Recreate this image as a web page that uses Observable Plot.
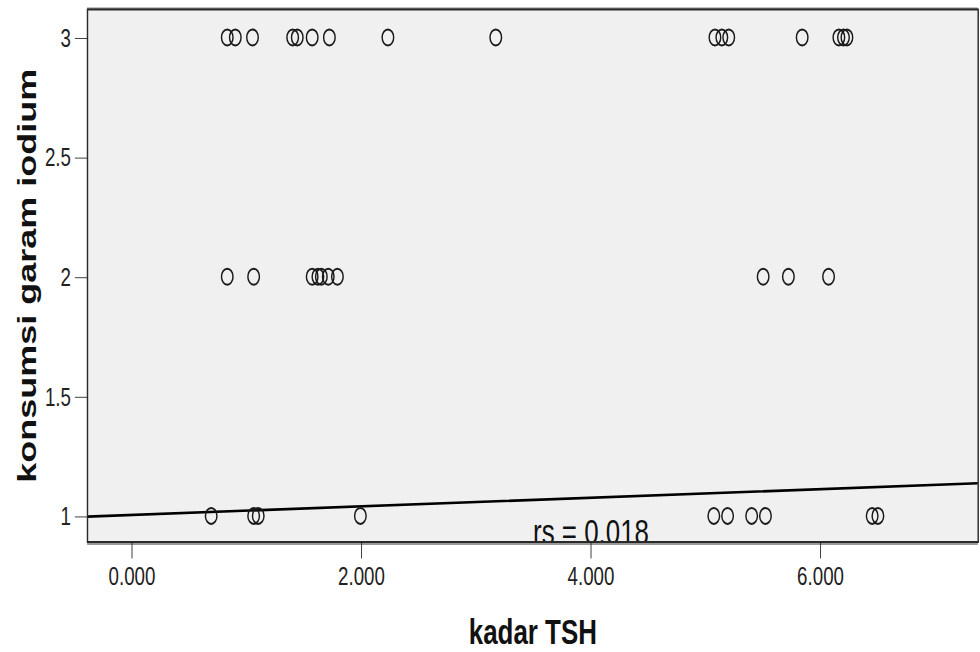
<!DOCTYPE html>
<html><head><meta charset="utf-8">
<script src="https://cdn.jsdelivr.net/npm/d3@7"></script>
<script src="https://cdn.jsdelivr.net/npm/@observablehq/plot@0.6"></script>
<style>html,body{margin:0;padding:0;background:#fff;overflow:hidden}</style>
</head><body><div id="chart"></div>
<script>
// kadar TSH values for each level of konsumsi garam iodium
const tshLevel1 = [0.69, 1.06, 1.10, 1.99, 5.07, 5.19, 5.40, 5.52, 6.45, 6.50];
const tshLevel2 = [0.83, 1.06, 1.57, 1.62, 1.65, 1.71, 1.79, 5.50, 5.72, 6.07];
const tshLevel3 = [0.83, 0.90, 1.05, 1.40, 1.44, 1.57, 1.72, 2.23, 3.17, 5.08, 5.14, 5.20, 5.84, 6.16, 6.20, 6.23];
const levels = [1, 2, 3];
const yTicks = [1, 1.5, 2, 2.5, 3];
const xTicks = [0, 2, 4, 6];
const fitIntercept = 1.004, fitSlope = 0.018;
const annotationText = ["rs = 0.018"];
const annotationX = [4.0];
const annotationY = [0.881];
const xTitle = "kadar TSH";
const yTitle = "konsumsi garam iodium";

const xDomain = [-0.388, 7.374];
const yDomain = [0.891, 3.117];

const points = [
  ...tshLevel1.map(x => ({x, y: levels[0]})),
  ...tshLevel2.map(x => ({x, y: levels[1]})),
  ...tshLevel3.map(x => ({x, y: levels[2]}))
];
const fit = xDomain.map(x => ({x, y: fitIntercept + fitSlope * x}));
const annotation = annotationText.map((t, i) => ({t, x: annotationX[i], y: annotationY[i]}));

const squeeze = 0.72;
const W = Math.round(980 / squeeze);
const H = 652;

const chart = Plot.plot({
  width: W,
  height: H,
  marginLeft: 121,
  marginRight: 3,
  marginTop: 9,
  marginBottom: 110.5,
  style: {fontFamily: "'Liberation Sans', Arial, sans-serif", color: "#222", background: "#fff"},
  x: {domain: xDomain},
  y: {domain: yDomain},
  marks: [
    Plot.frame({fill: "#f0f0f0"}),
    Plot.line(fit, {x: "x", y: "y", stroke: "#000", strokeWidth: 2.6, clip: true}),
    Plot.dot(points, {x: "x", y: "y", r: 8, stroke: "#1a1a1a", strokeWidth: 2, fill: "none"}),
    Plot.text(annotation, {x: "x", y: "y", text: "t", fontSize: 36, lineAnchor: "bottom", fill: "#111", clip: true}),
    Plot.ruleY([yDomain[0]], {stroke: "#999", strokeWidth: 2, dy: 2}),
    Plot.ruleY([yDomain[1]], {stroke: "#888", strokeWidth: 2, dy: -1}),
    Plot.frame({stroke: "#2a2a2a", strokeWidth: 2}),
    Plot.axisY({ticks: yTicks, tickFormat: d => String(d), tickSize: 17, tickPadding: 6, fontSize: 26, dy: 1, label: null}),
    Plot.axisX({ticks: xTicks, tickFormat: d3.format(".3f"), tickSize: 17, tickPadding: 8, fontSize: 26, label: null}),
    Plot.text([xTitle], {frameAnchor: "bottom", dy: 101.5, lineAnchor: "bottom", textAnchor: "middle", fontSize: 36, fontWeight: "bold", fill: "#111"}),
    Plot.text([yTitle], {frameAnchor: "left", rotate: -90, dx: -72, lineAnchor: "bottom", textAnchor: "middle", fontSize: 36, fontWeight: "bold", fill: "#111"})
  ]
});

chart.setAttribute("width", 980);
chart.setAttribute("height", H);
chart.setAttribute("preserveAspectRatio", "none");
chart.style.width = "980px";
chart.style.height = H + "px";
chart.style.maxWidth = "none";
document.getElementById("chart").appendChild(chart);
</script>
</body></html>
